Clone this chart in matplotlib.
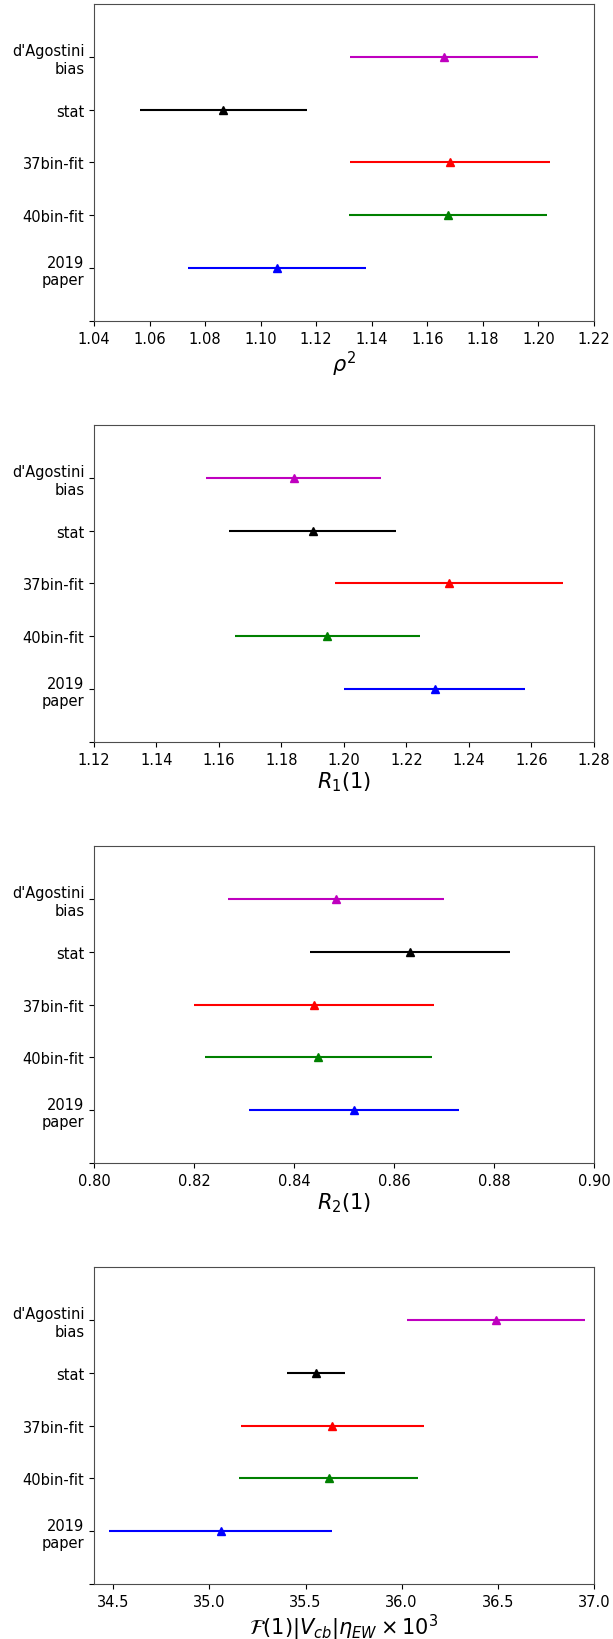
import matplotlib as mpl
mpl.use('Agg')
import matplotlib.pyplot as plt
import numpy as np

# rows from bottom to top
labels = ['2019\npaper', '40bin-fit', '37bin-fit', 'stat', "d'Agostini\nbias"]
colors = ['b', 'g', 'r', 'k', 'm']

rho2 = [1.106, 1.1675, 1.168, 1.0866, 1.166]
rho2_err = [0.032, 0.0357, 0.036, 0.030, 0.034]

r1 = [1.229, 1.1947, 1.2337, 1.190, 1.184]
r1_err = [0.029, 0.0296, 0.0365, 0.0268, 0.028]

r2 = [0.852, 0.8449, 0.844, 0.8633, 0.8485]
r2_err = [0.021, 0.0227, 0.024, 0.020, 0.0216]

fvcb = [35.06, 35.62, 35.64, 35.555, 36.49]
fvcb_err = [0.58, 0.467, 0.476, 0.149, 0.464]

panels = [
    (rho2, rho2_err, r'$\rho^2$', (1.04, 1.22), np.arange(1.04, 1.2201, 0.02), '{:.2f}'),
    (r1, r1_err, r'$R_1(1)$', (1.12, 1.28), np.arange(1.12, 1.2801, 0.02), '{:.2f}'),
    (r2, r2_err, r'$R_2(1)$', (0.80, 0.90), np.arange(0.80, 0.9001, 0.02), '{:.2f}'),
    (fvcb, fvcb_err, r'$\mathcal{F}(1)|V_{cb}|\eta_{EW} \times 10^3$', (34.4, 37.0),
     np.arange(34.5, 37.01, 0.5), '{:.1f}'),
]

fig = plt.figure(figsize=(6.13, 16.40), dpi=100)
fig.patch.set_facecolor('white')

bottoms = [0.8037, 0.5470, 0.2902, 0.0335]
ypos = np.arange(1, len(labels) + 1)

for (vals, errs, xlabel, xlim, xt, fmt), b in zip(panels, bottoms):
    ax = fig.add_axes([0.1533, b, 0.8157, 0.1933])
    for y, v, e, c in zip(ypos, vals, errs, colors):
        ax.errorbar(v, y, xerr=e, fmt='^', color=c, ecolor=c, elinewidth=1.5,
                    markersize=6, capsize=0)
    ax.set_ylim(0, 6)
    ax.set_xlim(*xlim)
    ax.set_xticks(xt)
    ax.set_xticklabels([fmt.format(t) for t in xt], fontsize=10.5)
    ax.set_yticks([0] + list(ypos))
    ax.set_yticklabels([''] + labels, fontsize=10.5, ha='right')
    for t in ax.get_yticklabels():
        t.set_multialignment('right')
    ax.set_xlabel(xlabel, fontsize=15, labelpad=2)
    for s in ax.spines.values():
        s.set_color('0.3')

plt.savefig('out.png', dpi=100)
plt.close()
